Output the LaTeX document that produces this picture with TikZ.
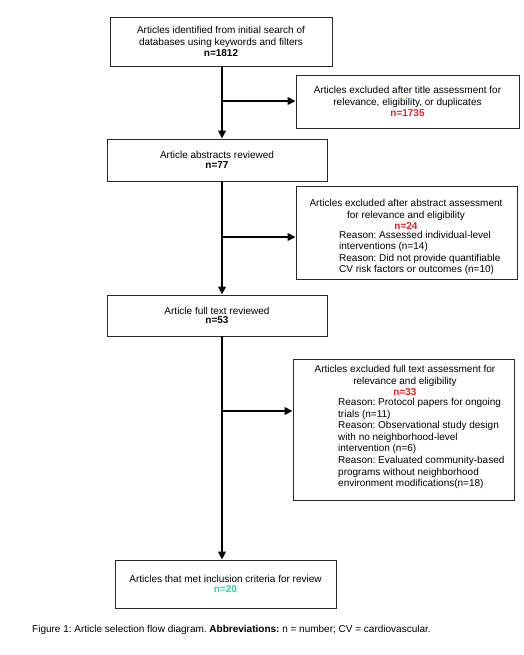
\documentclass[tikz,border=0pt]{standalone}
\usepackage{fontspec}
\setmainfont{Liberation Sans}
\usetikzlibrary{arrows.meta}
\definecolor{redn}{RGB}{232,30,37}
\definecolor{greenn}{RGB}{40,220,150}
\definecolor{boxline}{RGB}{40,40,40}
\tikzset{
  box/.style={draw=boxline, line width=0.9pt, fill=white, inner sep=0pt},
  txt/.style={font=\fontsize{10}{11.5}\selectfont, inner sep=0pt, align=center},
  rtxt/.style={font=\fontsize{10}{11.6}\selectfont, inner sep=0pt, align=left, anchor=west},
  arr/.style={line width=2.3pt, -{Triangle[length=8pt,width=7.5pt]}}
}
\begin{document}
\frenchspacing
\begin{tikzpicture}[x=1pt,y=-1pt]
\useasboundingbox (0,0) rectangle (523,655);
\fill[white] (0,0) rectangle (523,655);
% boxes
\node[box, minimum width=222pt, minimum height=49pt] (b1) at (221,41.5) {};
\node[txt] (t1) at (b1.center) {Articles identified from initial search of\\databases using keywords and filters\\\textbf{n=1812}};
\node[box, minimum width=223pt, minimum height=53pt] (b2) at (407.5,101.5) {};
\node[txt] (t2) at (b2.center) {Articles excluded after title assessment for\\relevance, eligibility, or duplicates\\\textcolor{redn}{\textbf{n=1735}}};
\node[box, minimum width=220pt, minimum height=42pt] (b3) at (217,160) {};
\node[txt] (t3) at (b3.center) {Article abstracts reviewed\\[-2pt]\textbf{n=77}};
\node[box, minimum width=221pt, minimum height=93pt] (b4) at (406.5,232.5) {};
\node[txt] (t4) at (406,214.5) {Articles excluded after abstract assessment\\for relevance and eligibility\\\textcolor{redn}{\textbf{n=24}}};
\node[rtxt] (r4) at (339,253) {Reason: Assessed individual-level\\interventions (n=14)\\Reason: Did not provide quantifiable\\CV risk factors or outcomes (n=10)};
\node[box, minimum width=220pt, minimum height=41pt] (b5) at (217,315.5) {};
\node[txt] (t5) at (b5.center) {Article full text reviewed\\[-2pt]\textbf{n=53}};
\node[box, minimum width=221pt, minimum height=141pt] (b6) at (403.5,429.5) {};
\node[txt] (t6) at (405,380.5) {Articles excluded full text assessment for\\relevance and eligibility\\\textcolor{redn}{\textbf{n=33}}};
\node[rtxt] (r6) at (338,443.5) {Reason: Protocol papers for ongoing\\trials (n=11)\\Reason: Observational study design\\with no neighborhood-level\\intervention (n=6)\\Reason: Evaluated community-based\\programs without neighborhood\\environment modifications(n=18)};
\node[box, minimum width=221pt, minimum height=48pt] (b7) at (225.5,584) {};
\node[txt] (t7) at (b7.center) {Articles that met inclusion criteria for review\\[-1pt]\textcolor{greenn}{\textbf{n=20}}};
% caption
\node[txt, anchor=west] (cap) at (32,630) {Figure 1: Article selection flow diagram. \textbf{Abbreviations:} n = number; CV = cardiovascular.};
% connectors
\coordinate (tx) at (222,0);
\coordinate (j1) at (222,101);
\coordinate (j2) at (222,237);
\coordinate (j3) at (222,411);
\draw[arr] (b1.south -| tx) -- (b3.north -| tx);
\draw[arr] (b3.south -| tx) -- (b5.north -| tx);
\draw[arr] (b5.south -| tx) -- (b7.north -| tx);
\draw[arr] (j1) -- (j1 -| b2.west);
\draw[arr] (j2) -- (j2 -| b4.west);
\draw[arr] (j3) -- (j3 -| b6.west);
\end{tikzpicture}
\end{document}
